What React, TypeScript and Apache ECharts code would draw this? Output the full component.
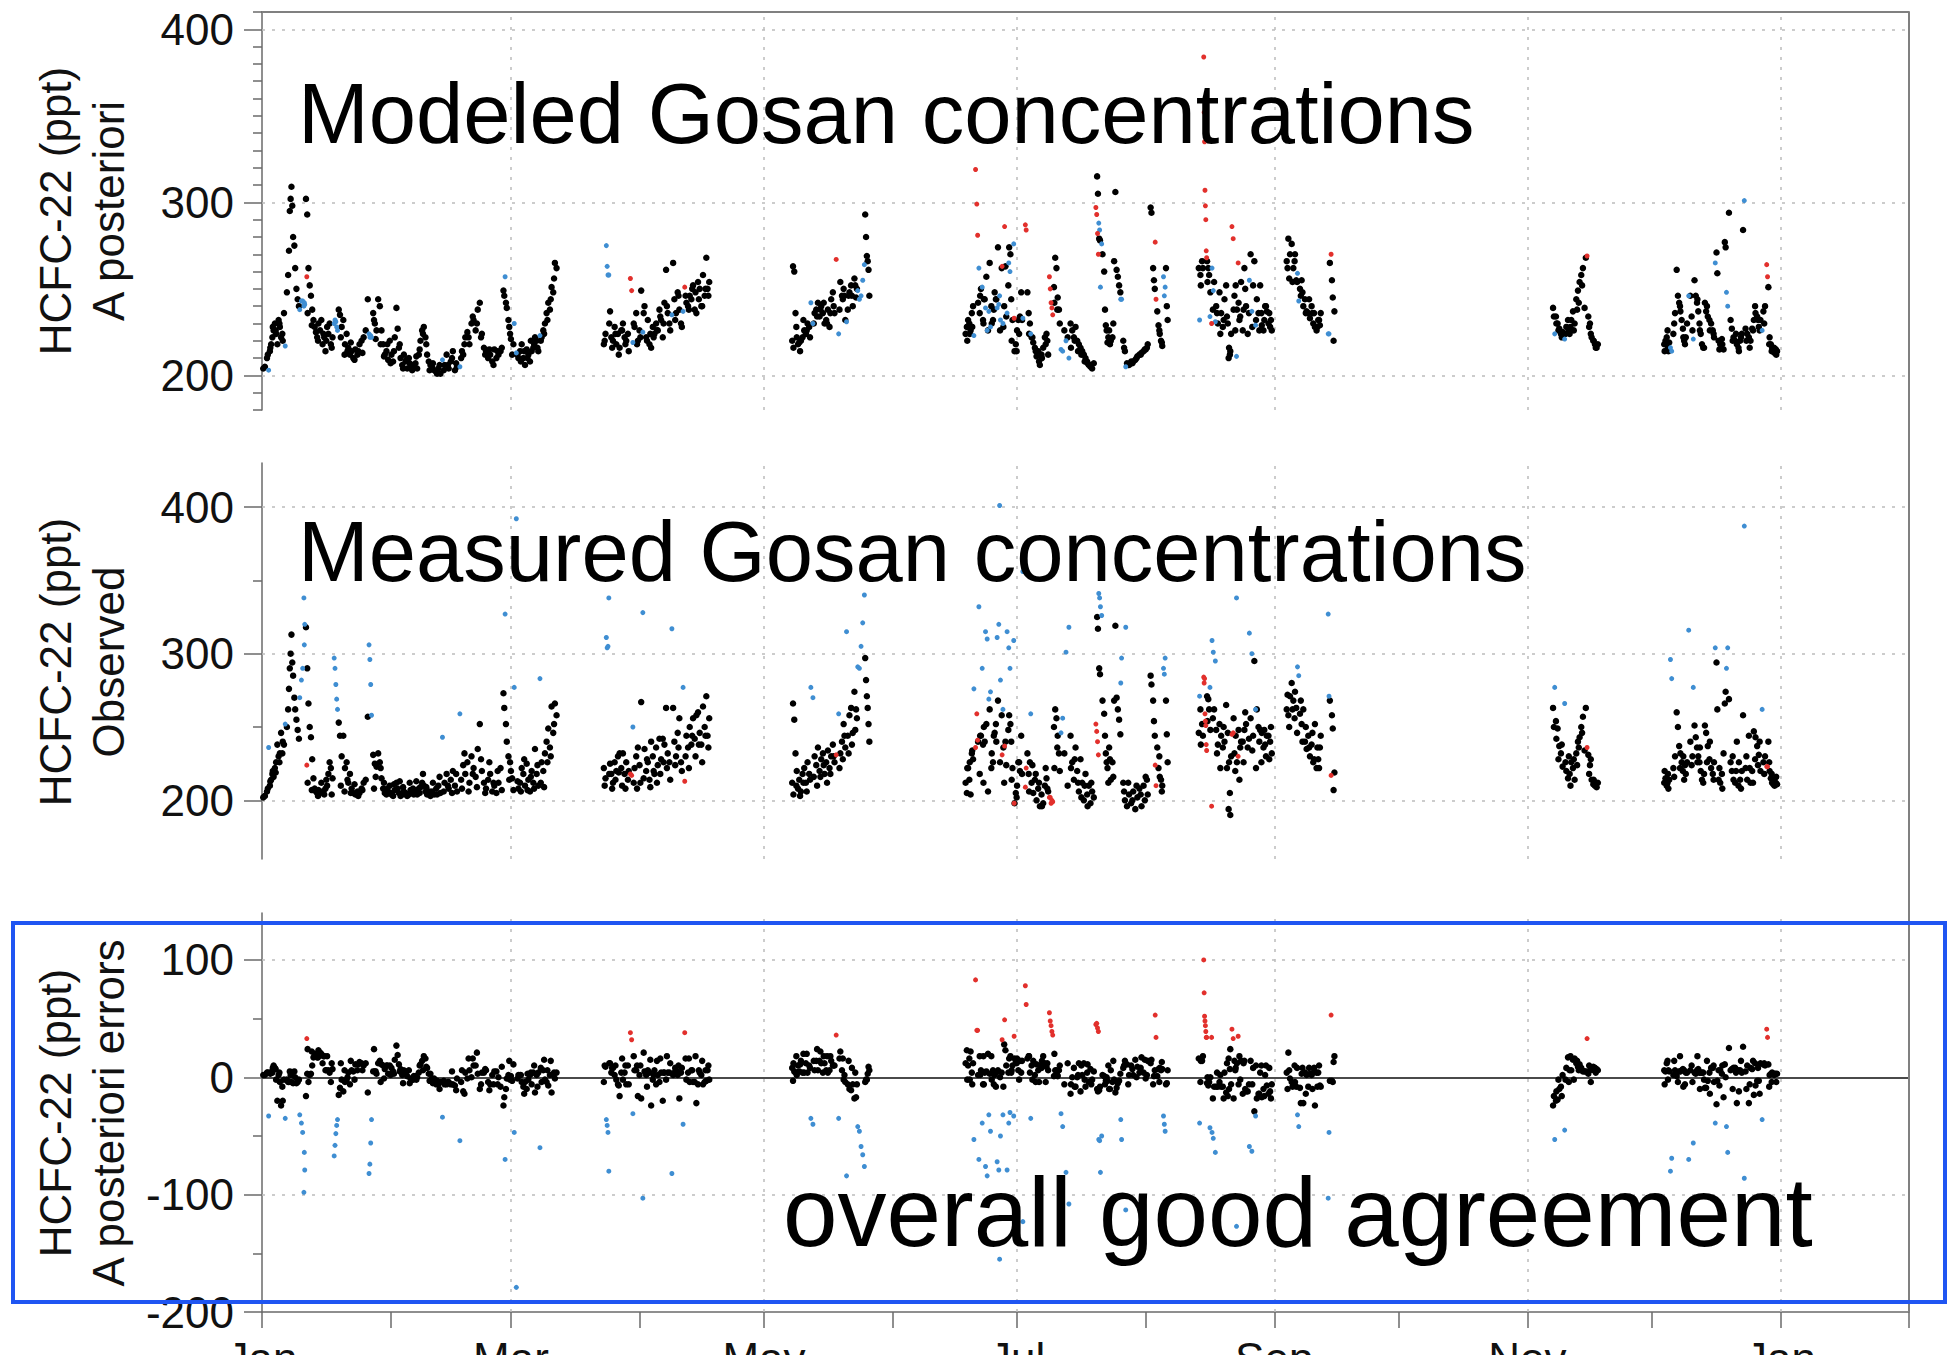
import React, { useEffect, useRef } from "react";
import * as echarts from "echarts";

const FONT = "'Liberation Sans', Arial, Helvetica, sans-serif";

// HCFC-22 at Gosan, one row per observation: [day of year, observed ppt, a posteriori ppt]
const janToMar = [
  [0.3,202,204],[0.7,203,205],[1.2,206,210],[1.4,208,212],[1.6,236,203],[1.9,210,214],[2.0,213,216],[2.2,214,218],[2.5,218,222],
  [2.6,220,228],[2.8,216,226],[3.1,222,230],[3.3,219,226],[3.4,226,224],[3.7,238,218],[4.0,230,232],[4.2,226,230],[4.3,232,228],
  [4.6,246,222],[4.9,232,224],[5.0,240,220],[5.3,238,236],
  [5.6,252,217],[6.0,250,248],[6.3,262,258],[6.5,276,272],[6.7,290,295],[6.9,300,302],[7.1,313,309],[7.3,294,298],
  [7.5,285,280],[7.8,270,275],[8.0,262,262],[8.3,255,250],[8.6,248,244],[8.9,242,240],[9.1,270,238],[9.5,282,243],
  [9.8,290,243],[10.1,338,240],[10.2,306,242],[10.3,320,241],[10.6,318,302],[10.8,224,257],[10.9,290,293],[11.0,212,236],[11.2,266,262],
  [11.5,250,252],[11.8,243,246],[12.0,207,229],[12.1,228,238],[12.4,215,232],[12.7,208,228],[13.0,206,225],[13.3,205,222],[13.5,203,220],[13.6,207,230],
  [14.0,205,226],[14.3,212,232],[14.6,206,218],[14.8,206,224],[15.0,204,222],[15.3,208,214],[15.5,214,220],[15.7,210,228],[16.0,218,224],[16.3,226,230],
  [16.6,222,218],[16.8,204,216],[17.0,215,222],[17.4,297,230],[17.6,290,232],[17.8,279,231],[18.0,269,228],[18.2,262,226],[18.5,253,238],
  [18.8,244,235],[19.0,210,222],[19.2,230,228],[19.6,244,232],[19.9,206,212],[20.0,222,218],[20.4,226,224],[20.6,214,214],[20.8,212,216],[21.2,218,212],[21.4,205,219],[21.6,208,214],
  [22.0,205,210],[22.3,211,209],[22.5,204,215],[23.0,206,212],[23.2,203,214],[23.5,205,218],[24.0,208,220],[24.2,207,213],[24.5,212,222],[25.0,214,226],[25.5,257,244],[25.8,306,224],
  [26.0,296,222],[26.2,279,223],[26.4,258,222],[26.8,231,236],[27.0,208,232],[27.2,225,230],[27.4,216,221],[27.6,223,226],[28.0,232,244],[28.4,226,240],
  [28.6,222,218],[28.8,215,226],[29.2,208,218],[29.4,212,211],[29.6,205,212],[30.0,204,214],[30.2,208,218],[30.4,206,209],[30.8,210,220],[31.0,205,207],[31.2,204,212],[31.6,203,208],
  [31.8,211,214],[32.0,207,222],[32.4,212,239],[32.7,208,227],[33.0,205,216],[33.2,213,218],[33.4,203,210],[33.8,204,206],[34.0,209,204],[34.2,206,212],[34.6,205,208],[34.8,204,209],
  [35.0,203,204],[35.4,204,210],[35.6,212,207],[35.8,207,206],[36.2,205,203],[36.4,208,206],[36.6,204,205],[37.0,206,207],[37.2,213,211],[37.4,204,204],[37.8,208,212],
  [38.0,205,215],[38.2,209,220],[38.6,212,226],[38.8,218,224],[39.0,210,228],[39.4,206,222],[39.6,209,218],[39.8,204,212],[40.2,205,208],[40.4,206,203],[40.6,203,206],[41.0,206,205],
  [41.2,212,207],[41.5,204,203],[42.0,208,202],[42.2,204,201],[42.5,210,204],[42.8,216,206],[43.0,205,201],[43.5,243,209],[43.8,206,203],[44.0,212,206],[44.5,218,212],[44.8,210,206],[45.0,208,204],
  [45.5,214,208],[45.8,205,210],[46.0,220,214],[46.5,210,203],[46.8,218,207],[47.0,206,205],[47.7,259,205],[48.0,214,210],[48.2,208,214],[48.5,224,212],[48.8,232,218],[49.0,218,222],
  [49.5,226,225],[49.8,206,222],[50.0,212,218],[50.5,230,230],[50.8,218,234],[51.0,222,232],[51.5,216,226],[51.8,209,230],[52.0,235,238],[52.5,252,242],[52.8,228,222],[53.0,220,224],
  [53.5,212,216],[53.8,205,212],[54.0,208,214],[54.5,214,210],[54.8,226,215],[55.0,218,212],[55.5,206,208],[55.8,212,206],[56.0,210,215],[56.5,205,210],[56.8,220,214],[57.0,212,212],
  [57.5,222,214],[57.8,207,216],[58.2,273,249],[58.4,263,246],[58.6,327,257],[58.8,252,242],[59.0,240,239],[59.4,230,232],[59.6,214,228],[59.8,226,224],
  [60.0,220,221],[60.3,215,212],[60.6,207,218],[60.8,277,230],[61.3,392,213],[61.6,213,212],[61.8,208,210],[62.2,212,214],[62.4,206,208],[62.6,222,218],[63.0,218,210],[63.2,228,214],[63.4,210,206],
  [63.8,225,215],[64.0,207,210],[64.2,214,212],[64.6,206,208],[64.8,216,220],[65.0,220,214],[65.4,212,216],[65.6,208,218],[65.8,235,222],[66.2,218,220],[66.4,224,216],[66.6,210,214],
  [67.0,283,223],[67.2,212,220],[67.4,226,222],[67.8,220,226],[68.0,209,224],[68.2,232,230],[68.6,240,236],[68.8,226,232],[69.0,249,242],[69.4,236,238],[69.6,230,244],[69.8,264,251],
  [70.2,246,248],[70.4,252,256],[70.6,266,265],[71.0,258,262],
];

const aprToMay = [
  [82.4,222,218],[82.6,210,220],[82.8,215,224],[83.0,311,275],[83.2,304,263],[83.4,305,258],[83.6,338,258],[83.7,218,230],[83.9,225,237],[84.2,218,222],
  [84.4,208,216],[84.6,212,220],[85.0,226,228],[85.2,214,224],[85.4,220,218],[85.8,230,224],[86.0,219,212],[86.2,232,216],[86.6,222,226],[86.8,210,226],[87.0,232,230],[87.4,218,222],
  [87.6,208,218],[87.8,226,220],[88.2,214,224],[88.4,220,214],[88.8,218,256],[89.1,217,249],[89.4,250,219],[89.6,212,230],[89.8,222,228],[90.2,230,236],[90.4,208,218],[90.6,236,220],
  [91.0,224,226],[91.2,212,222],[91.4,267,249],[91.8,328,225],[92.0,215,236],[92.2,235,240],[92.6,220,222],[92.8,228,220],[93.0,226,232],[93.4,214,218],[93.6,209,224],[93.8,240,216],
  [94.2,230,228],[94.4,220,222],[94.6,218,224],[95.0,236,230],[95.2,212,226],[95.4,224,226],[95.8,242,238],[96.0,218,234],[96.2,228,232],[96.6,242,222],[96.8,226,230],[97.0,238,242],
  [97.4,263,261],[97.6,222,240],[97.8,232,236],[98.2,226,230],[98.4,214,226],[98.8,317,235],[99.1,263,265],[99.4,240,244],[99.6,224,232],[99.8,230,236],[100.2,246,248],[100.4,236,246],
  [100.6,256,238],[101.0,226,230],[101.2,220,228],[101.5,277,237],[101.9,213,251],[102.1,230,246],[102.3,244,242],[102.7,236,240],[102.9,222,238],[103.1,250,246],[103.5,238,244],
  [103.7,244,250],[103.9,256,252],[104.3,242,238],[104.5,230,248],[104.7,258,236],[105.1,260,254],[105.3,238,244],[105.5,246,250],[105.9,238,240],[106.1,226,240],[106.3,264,258],[106.7,250,246],
  [106.9,244,250],[107.1,271,268],[107.4,244,250],[107.6,236,246],[107.8,256,254],
];

const mayToJun = [
  [127.8,212,220],[128.0,266,263],[128.1,204,216],[128.3,255,260],[128.6,232,236],[128.8,210,228],[128.9,220,222],[129.2,208,218],[129.5,214,219],[129.7,203,214],[129.9,206,220],
  [130.3,218,222],[130.5,212,232],[130.7,222,226],[131.1,212,224],[131.3,206,226],[131.5,226,230],[131.9,218,228],[132.1,214,222],[132.3,277,242],[132.8,270,230],[133.0,216,230],[133.2,230,236],
  [133.6,224,238],[133.8,210,234],[134.0,236,242],[134.4,220,234],[134.6,216,238],[134.8,228,240],[135.2,232,236],[135.4,224,242],[135.6,218,230],[136.0,226,232],[136.2,212,230],[136.4,234,238],
  [136.8,222,228],[137.0,218,236],[137.2,230,244],[137.6,238,248],[137.8,230,240],[138.0,226,236],[138.4,231,267],[139.0,259,224],[139.2,222,238],[139.4,232,254],[139.8,240,246],
  [140.0,228,244],[140.2,252,250],[140.4,244,246],[140.6,236,232],[140.9,315,231],[141.2,244,238],[141.4,232,246],[141.6,258,248],[142.0,263,252],[142.2,238,246],[142.4,246,240],[142.8,274,256],
  [143.0,248,252],[143.2,262,245],[143.4,256,250],[143.6,291,249],[144.0,290,244],[144.4,305,246],[144.8,321,255],[145.2,340,264],[145.4,297,293],[145.6,282,280],
  [145.8,271,269],[146.0,263,266],[146.2,252,261],[146.4,240,246],
];

const julToSep = [
  [169.6,212,224],[169.9,205,228],[170.0,222,220],[170.2,222,232],[170.5,214,230],[170.6,226,224],[170.8,204,226],[171.1,232,236],[171.2,234,228],[171.4,228,240],[171.6,276,223],
  [172.0,236,319],[172.3,259,299],[172.5,241,281],[172.6,240,242],[172.8,332,262],[173.0,218,236],[173.1,244,246],[173.3,244,250],[173.6,290,251],[173.8,238,232],
  [173.9,212,230],[174.0,250,244],[174.2,240,244],[174.4,315,239],[174.6,252,257],[174.8,310,226],[175.0,206,226],[175.2,269,237],[175.4,262,265],
  [175.6,274,228],[175.8,222,240],[175.9,232,230],[176.2,226,232],[176.4,244,238],[176.6,246,248],[176.9,252,244],[177.0,240,244],[177.2,311,239],[177.4,268,274],[177.6,320,241],
  [177.8,401,246],[177.9,226,226],[178.0,282,232],[178.3,258,262],[178.4,231,263],[178.6,262,230],[178.7,236,228],[178.9,212,240],[179.0,237,286],[179.2,240,263],[179.4,224,234],
  [179.6,315,236],[179.9,248,252],[180.0,304,265],[180.1,258,274],[180.3,290,260],[180.4,252,270],[180.6,240,244],[180.7,214,220],[180.9,222,232],
  [181.2,309,276],[181.3,198,233],[181.4,198,214],[181.7,205,218],[181.9,202,214],[182.0,210,226],[182.3,226,232],[182.5,226,224],[182.7,220,234],[183.0,244,248],[183.2,218,232],
  [183.4,356,233],[184.0,209,287],[184.2,222,284],[184.5,232,248],[184.8,218,236],[184.9,206,224],[185.1,226,230],[185.3,259,224],[185.5,212,222],[185.7,224,222],
  [185.9,205,219],[186.3,214,216],[186.5,218,214],[186.7,200,211],[187.1,208,214],[187.3,212,208],[187.5,196,206],[187.9,204,212],[188.0,196,210],[188.3,198,216],[188.7,210,222],[188.9,222,218],
  [189.1,215,224],[189.3,208,220],[189.5,206,212],[189.8,202,257],[190.0,202,250],[190.2,198,242],[190.4,200,239],[190.6,199,235],[190.9,250,251],[191.0,222,242],
  [191.2,262,268],[191.5,256,262],[191.7,236,238],[191.8,244,245],[192.1,232,238],[192.3,220,230],[192.6,246,215],[193.0,256,214],[193.4,232,226],[193.8,301,220],[194.2,210,222],[194.5,318,210],
  [194.9,244,230],[195.0,222,216],[195.3,226,226],[195.7,214,222],[195.9,228,220],[196.1,236,228],[196.5,220,220],[196.7,212,214],[196.9,206,218],[197.3,228,216],[197.5,202,212],[197.7,212,214],
  [198.1,200,212],[198.3,210,208],[198.5,218,210],[198.9,204,208],[199.0,196,207],[199.3,210,206],[199.7,198,205],[199.9,212,206],[200.1,206,204],[200.5,202,207],[201.0,252,297],
  [201.2,247,293],[201.3,325,315],[201.4,240,282],[201.5,317,305],[201.6,231,270],[201.7,341,288],[201.8,290,279],[201.9,338,284],
  [202.0,286,278],[202.1,332,251],[202.4,326,276],[202.6,268,270],[203.0,259,260],[203.2,244,238],[203.4,232,229],[203.6,226,226],[203.8,222,219],[204.0,212,222],[204.2,236,226],
  [204.4,228,218],[204.6,214,220],[205.0,226,222],[205.2,216,230],[205.4,268,266],[205.7,319,306],[206.0,270,261],[206.3,262,257],[206.6,255,252],[206.9,245,248],
  [207.0,280,244],[207.2,297,244],[207.6,212,220],[207.8,206,216],[208.0,200,214],[208.2,318,205],[208.5,196,207],[208.8,212,206],[209.0,204,206],[209.5,198,208],[209.8,200,207],
  [210.0,206,208],[210.5,194,209],[210.8,210,210],[211.0,202,211],[211.5,208,212],[211.8,204,212],[212.0,196,213],[212.5,210,214],[212.8,200,215],[213.0,216,215],[213.3,214,216],[213.5,204,218],
  [214.2,285,297],[214.4,279,294],[214.8,268,262],[215.0,254,255],[215.2,244,250],[215.3,224,277],[215.5,210,244],[215.8,236,237],
  [216.1,222,229],[216.3,230,226],[216.4,216,224],[216.7,214,220],[216.9,206,219],[217.0,210,217],[217.3,290,257],[217.5,286,246],[217.7,297,251],[217.9,268,262],
  [218.1,245,240],[218.3,226,232],
  [225.8,246,262],[226.0,271,232],[226.2,262,258],[226.3,238,252],[226.6,252,266],[226.8,244,262],[227.0,284,384],[227.1,280,352],[227.2,283,335],[227.3,259,307],
  [227.4,254,298],[227.5,251,290],[227.6,238,272],[227.7,234,268],[227.8,271,266],[227.9,254,254],[228.1,269,262],[228.3,262,258],[228.5,277,234],[228.6,248,248],
  [228.9,196,230],[229.0,309,262],[229.2,256,238],[229.3,301,249],[229.5,262,254],[229.8,295,231],[230.0,248,240],[230.2,232,236],[230.4,238,230],[230.8,252,248],
  [231.0,222,224],[231.2,244,236],[231.6,236,228],[231.8,250,232],[232.0,240,244],[232.4,265,252],[232.6,222,234],[232.8,246,230],[233.0,194,210],[233.1,226,216],[233.3,205,212],
  [233.4,190,214],[233.6,230,224],[233.8,245,286],[234.1,246,279],[234.2,256,238],[234.4,232,246],[234.6,220,226],[234.7,244,252],[234.9,338,211],[235.0,226,238],
  [235.3,230,265],[235.4,248,242],[235.6,214,232],[235.8,236,234],[236.0,240,254],[236.4,240,226],[236.6,226,238],[236.8,248,262],[237.0,260,250],[237.2,252,240],[237.6,236,224],[237.9,242,236],[238.0,314,255],
  [238.3,256,270],[238.6,300,237],[238.7,234,228],[238.9,244,252],[239.2,295,266],[239.5,262,229],[239.6,222,232],[239.8,262,244],[240.2,250,236],[240.4,240,226],[240.6,248,252],
  [240.9,226,236],[241.0,246,229],[241.4,236,226],[241.6,248,232],[241.8,238,240],[242.0,230,240],[242.2,244,237],[242.6,244,230],[242.8,228,236],[243.0,240,228],[243.2,250,232],[243.4,232,226],
  [247.0,262,266],[247.2,272,262],[247.4,258,279],[247.6,250,256],[247.8,271,270],[248.2,280,276],[248.4,262,254],[248.6,268,262],[248.9,256,266],[249.0,274,270],[249.3,263,255],[249.5,246,254],[249.6,291,259],
  [249.9,285,243],[250.2,259,250],[250.4,268,246],[250.6,252,255],[250.8,240,248],[251.0,262,240],[251.4,240,244],[251.6,250,236],[251.8,235,237],[252.2,244,236],[252.4,236,244],[252.6,230,233],
  [253.0,238,240],[253.2,246,236],[253.4,226,230],[253.6,228,236],[253.8,252,228],[254.2,222,226],[254.4,236,228],[254.6,228,232],[254.8,222,232],[255.0,236,229],[255.2,244,236],
  [257.0,327,224],[257.2,271,224],[257.4,268,265],[257.7,217,270],[257.9,258,255],[258.1,249,245],[258.3,207,220],[258.5,219,237],
];

const novSpell = [
  [311.2,263,239],[311.4,250,234],[311.6,277,224],[311.9,254,234],[312.0,242,230],[312.3,249,230],[312.5,228,226],[312.7,237,227],[313.1,232,224],[313.3,238,222],[313.5,223,225],[314.0,266,221],
  [314.2,226,224],[314.4,220,228],[314.8,215,232],[315.0,230,226],[315.2,218,224],[315.4,210,228],[315.6,226,232],[316.0,222,237],[316.2,228,226],[316.4,214,230],[316.8,232,244],[317.0,224,238],[317.2,240,249],
  [317.4,236,242],[317.6,243,254],[318.0,250,258],[318.2,246,252],[318.4,257,262],[318.8,234,239],[319.1,263,268],[319.4,236,269],[319.7,231,234],[319.9,218,228],[320.1,224,230],[320.3,228,224],
  [320.5,214,222],[320.9,211,220],[321.0,214,220],[321.3,210,218],[321.5,212,216],[321.7,209,216],[322.0,212,218],
];

const decSpell = [
  [338.0,212,218],[338.1,220,214],[338.3,215,220],[338.6,210,222],[338.8,212,226],[338.9,218,216],[339.0,208,214],[339.2,214,219],[339.5,296,216],[339.8,283,214],[340.2,222,224],
  [340.4,216,230],[340.6,230,236],[341.0,260,261],[341.3,250,246],[341.6,237,242],[341.8,222,240],[341.9,232,237],[342.2,226,232],[342.5,220,227],[342.6,230,222],[342.8,214,220],
  [343.0,224,218],[343.2,218,222],[343.5,226,230],[343.9,316,246],[344.3,240,246],[344.6,224,234],[344.8,230,226],[345.0,277,221],[345.3,251,255],[345.6,243,246],
  [345.9,236,242],[346.0,226,244],[346.2,230,237],[346.5,226,230],[346.6,236,226],[346.8,220,224],[347.1,214,218],[347.4,212,216],[347.6,218,216],[347.8,251,242],[348.1,246,237],
  [348.3,226,240],[348.5,237,234],[348.9,228,232],[349.0,240,226],[349.3,222,230],[349.7,218,226],[349.9,214,224],[350.0,226,222],[350.3,304,265],[350.6,294,271],[350.8,262,259],
  [351.1,214,220],[351.3,222,215],[351.5,212,218],[351.9,218,221],[352.0,208,218],[352.3,232,215],[352.6,266,277],[352.8,274,274],[353.0,290,248],[353.3,304,240],
  [353.6,269,294],[354.0,226,232],[354.3,220,227],[354.5,230,220],[354.7,214,222],[355.1,212,220],[355.3,220,224],[355.5,240,218],[355.9,210,216],[356.0,226,214],[356.3,214,220],[356.5,208,222],
  [356.7,220,224],[357.0,258,284],[357.3,387,301],[357.6,222,227],[357.8,230,220],[358.0,214,224],[358.4,244,222],[358.6,222,216],[358.8,212,220],[359.2,220,227],[359.4,212,226],
  [359.6,247,232],[359.9,228,240],[360.0,243,236],[360.4,237,234],[360.6,224,232],[360.8,231,228],[361.0,240,226],[361.2,220,232],[361.6,262,226],[361.9,226,237],[362.1,218,230],[362.3,230,240],
  [362.7,223,264],[362.9,223,257],[363.1,240,251],[363.3,226,218],[363.4,220,222],[363.7,215,218],[363.9,218,214],[364.0,212,216],[364.3,211,214],[364.5,214,216],[364.6,210,213],
  [364.9,212,215],[365.0,216,212],[365.2,211,214],
];

const observationSpells = [janToMar, aprToMay, mayToJun, julToSep, novSpell, decSpell];

// Month boundaries (day of year) and the bi-monthly labels on the time axis
const monthStartDays = [0, 31, 60, 91, 121, 152, 182, 213, 244, 274, 305, 335, 366, 397];
const labelledMonthDays = [0, 60, 121, 182, 244, 305, 366];
const labelledMonthNames = ["Jan", "Mar", "May", "Jul", "Sep", "Nov", "Jan"];
const monthGridDays = [60, 121, 182, 244, 305, 366];

const concentrationTicks = [200, 300, 400];
const modeledMinorTicks = [180, 190, 210, 220, 230, 240, 250, 260, 270, 280, 290, 310, 320, 330, 340, 350, 360, 370, 380, 390, 410];
const observedMinorTicks = [250, 350];
const errorTicks = [-200, -100, 0, 100];
const errorMinorTicks = [-150, -50, 50];
const errorGridValues = [100, -100];

// a posteriori minus observed beyond this many ppt is flagged
const ERROR_LIMIT = 30;

const AXIS_COLOR = "#6a6a6a";
const FRAME_COLOR = "#808080";
const GRID_COLOR = "#bcbcbc";
const CLASS_STYLE: Record<string, { color: string; size: number }> = {
  fit: { color: "#000000", size: 6.5 },
  low: { color: "#3f8ed2", size: 5 },
  high: { color: "#e2302c", size: 5 },
};

const PLOT_LEFT = 262;
const PLOT_WIDTH = 1647;

const panels = [
  {
    top: 12, height: 398, min: 180, max: 410,
    ticks: concentrationTicks, minor: modeledMinorTicks,
    names: ["HCFC-22 (ppt)", "A posteriori"], nameY: 211,
    title: "Modeled Gosan concentrations",
  },
  {
    top: 463, height: 396, min: 160, max: 430,
    ticks: concentrationTicks, minor: observedMinorTicks,
    names: ["HCFC-22 (ppt)", "Observed"], nameY: 662,
    title: "Measured Gosan concentrations",
  },
  {
    top: 913, height: 399, min: -200, max: 140,
    ticks: errorTicks, minor: errorMinorTicks,
    names: ["HCFC-22 (ppt)", "A posteriori errors"], nameY: 1113,
    title: "overall good agreement",
  },
];

function classify(obs: number, mod: number) {
  const err = mod - obs;
  if (err >= ERROR_LIMIT) return "high";
  if (err <= -ERROR_LIMIT) return "low";
  return "fit";
}

function buildOption() {
  const rows = observationSpells.flat();
  // panel 0: a posteriori, panel 1: observed, panel 2: a posteriori - observed
  const points: Record<string, number[][]>[] = [0, 1, 2].map(() => ({ fit: [], low: [], high: [] }));
  rows.forEach(([day, obs, mod]) => {
    const cls = classify(obs, mod);
    points[0][cls].push([day, mod]);
    points[1][cls].push([day, obs]);
    points[2][cls].push([day, mod - obs]);
  });

  const dotted = { type: [3, 7] as number[], color: GRID_COLOR, width: 1.5 };

  const grid = panels.map((p) => ({
    left: PLOT_LEFT, width: PLOT_WIDTH, top: p.top, height: p.height,
    containLabel: false, outerBoundsMode: "none",
  }));

  const xAxis = [0, 1, 2].map((i) => {
    const base: any = {
      type: "value", gridIndex: i, min: 0, max: 397,
      splitLine: { show: false },
    };
    if (i === 0) {
      return {
        ...base, position: "top",
        axisLine: { show: true, onZero: false, lineStyle: { color: FRAME_COLOR, width: 2 } },
        axisTick: { show: false }, axisLabel: { show: false },
      };
    }
    if (i === 1) {
      return { ...base, axisLine: { show: false, onZero: false }, axisTick: { show: false }, axisLabel: { show: false } };
    }
    return {
      ...base, position: "bottom",
      axisLine: { show: true, onZero: false, lineStyle: { color: AXIS_COLOR, width: 1.5 } },
      axisTick: { show: true, length: 16, customValues: monthStartDays, lineStyle: { color: AXIS_COLOR, width: 1.5 } },
      axisLabel: {
        show: true, customValues: labelledMonthDays, margin: 24,
        fontSize: 44, fontFamily: FONT, color: "#111",
        formatter: (v: number) => {
          const k = labelledMonthDays.indexOf(v);
          return k >= 0 ? labelledMonthNames[k] : "";
        },
      },
    };
  });

  const yAxis: any[] = [];
  panels.forEach((p, i) => {
    yAxis.push({
      type: "value", gridIndex: i, min: p.min, max: p.max, position: "left",
      axisLine: { show: true, onZero: false, lineStyle: { color: AXIS_COLOR, width: 1.5 } },
      axisTick: { show: true, length: 18, customValues: p.ticks, lineStyle: { color: AXIS_COLOR, width: 1.5 } },
      axisLabel: { show: true, customValues: p.ticks, margin: 28, fontSize: 44, fontFamily: FONT, color: "#111" },
      splitLine: { show: false },
    });
    yAxis.push({
      type: "value", gridIndex: i, min: p.min, max: p.max, position: "left",
      axisLine: { show: false, onZero: false },
      axisTick: { show: true, length: 9, customValues: p.minor, lineStyle: { color: AXIS_COLOR, width: 1.5 } },
      axisLabel: { show: false },
      splitLine: { show: false },
    });
  });

  const series: any[] = [];
  panels.forEach((p, i) => {
    const hLines = i < 2
      ? concentrationTicks.map((v) => ({ yAxis: v }))
      : [
          ...errorGridValues.map((v) => ({ yAxis: v })),
          { yAxis: 0, lineStyle: { type: "solid", color: "#4a4a4a", width: 1.8 } },
        ];
    const vLines = monthGridDays.map((d) => ({ xAxis: d }));
    ["fit", "low", "high"].forEach((cls) => {
      const s: any = {
        type: "scatter",
        xAxisIndex: i,
        yAxisIndex: i * 2,
        data: points[i][cls],
        symbol: "circle",
        symbolSize: CLASS_STYLE[cls].size,
        itemStyle: { color: CLASS_STYLE[cls].color, opacity: 1 },
        z: cls === "fit" ? 3 : 4,
        silent: true,
      };
      if (cls === "fit") {
        s.markLine = {
          silent: true,
          z: 1,
          symbol: ["none", "none"],
          label: { show: false },
          lineStyle: dotted,
          emphasis: { disabled: true },
          data: [...hLines, ...vLines],
        };
      }
      series.push(s);
    });
  });

  const graphic: any[] = [
    {
      type: "line", z: 50,
      shape: { x1: PLOT_LEFT + PLOT_WIDTH, y1: 12, x2: PLOT_LEFT + PLOT_WIDTH, y2: 1312 },
      style: { stroke: FRAME_COLOR, lineWidth: 2 },
    },
    {
      type: "text", z: 60, x: 298, y: 113.5,
      style: { text: panels[0].title, fontSize: 85, fontFamily: FONT, fill: "#000", align: "left", verticalAlign: "middle" },
    },
    {
      type: "text", z: 60, x: 298, y: 551.5,
      style: { text: panels[1].title, fontSize: 85, fontFamily: FONT, fill: "#000", align: "left", verticalAlign: "middle" },
    },
    {
      type: "text", z: 60, x: 783, y: 1212,
      style: { text: panels[2].title, fontSize: 98, fontFamily: FONT, fill: "#000", align: "left", verticalAlign: "middle" },
    },
    {
      type: "rect", z: 70,
      shape: { x: 13, y: 923, width: 1932, height: 379 },
      style: { fill: "none", stroke: "#1f55f2", lineWidth: 4 },
    },
  ];
  panels.forEach((p) => {
    p.names.forEach((line, k) => {
      graphic.push({
        type: "text", z: 60, x: k === 0 ? 55 : 108, y: p.nameY, rotation: Math.PI / 2,
        style: { text: line, fontSize: 44, fontFamily: FONT, fill: "#111", align: "center", verticalAlign: "middle" },
      });
    });
  });

  return {
    animation: false,
    backgroundColor: "#ffffff",
    grid,
    xAxis,
    yAxis,
    series,
    graphic,
  };
}

export default function App() {
  const ref = useRef<HTMLDivElement>(null);
  useEffect(() => {
    if (!ref.current) return;
    const chart = echarts.init(ref.current, undefined, { renderer: "svg" });
    chart.setOption(buildOption() as any);
    return () => chart.dispose();
  }, []);
  return (
    <div
      ref={ref}
      style={{ position: "absolute", left: 0, top: 0, width: 1950, height: 1355, background: "#fff" }}
    />
  );
}
